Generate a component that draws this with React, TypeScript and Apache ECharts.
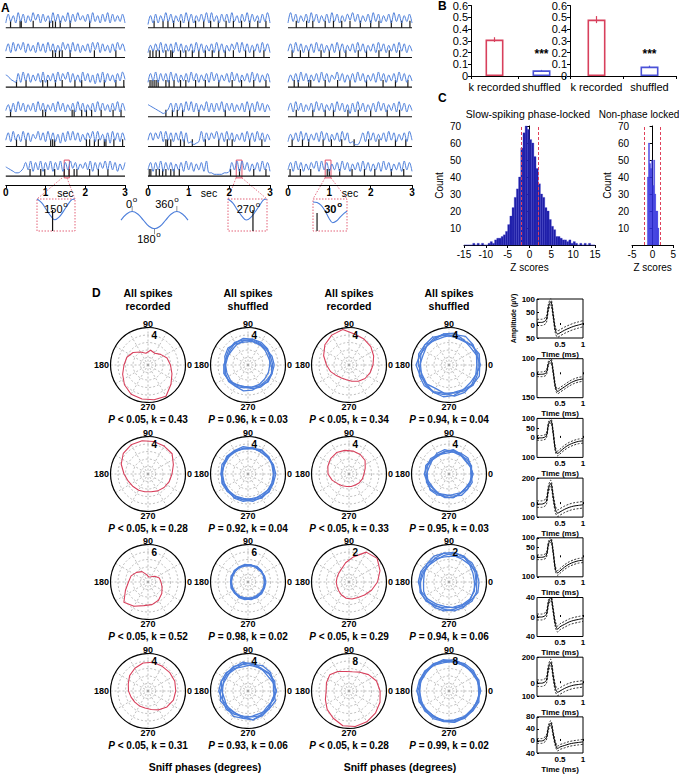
import { useEffect, useRef } from 'react';
import * as echarts from 'echarts';

const FONT = '"Liberation Sans", Arial, Helvetica, sans-serif';
const RED = '#d8405c';
const BLUE = '#4d7fdb';
const BAR_BLUE = '#4b52d8';
const HIST_DARK = '#1e1ea6';
const HIST_RIGHT = '#2b2bea';

// ---------------- Panel A: sniff traces (digit = relative amplitude at successive extrema) ----------------
const aTracesCol1 = [
  '2837293827394828372938273928394738293728392837382',
  '3829384928372938293827394829382738294928372839483',
  '7643282938273829273829384928372938271829283728394',
  '3728293827382938273829382738293827382938372839283',
  '3829372938274938293827182939382738492937281938283',
  '5432112483928392839283928394837483928384939382738',
];
const aTracesCol2 = [
  '1728273938273829382738392937283829372839283728392',
  '2738392838293827382938273829382738492938273829382',
  '2839283829382738293827382938273829382738293827382',
  '7654321248283829392827392828392838273829382938273',
  '3838492938283928120129283849382938273829382938273',
  '3828392838273829382738291100001128392938273829382',
];
const aTracesCol3 = [
  '2938273829382738293827384938273829382738293827382',
  '3829382738293827382938273829382738293827382938273',
  '2738293827382938274938273829382738293827382938273',
  '3829382738293827382938271829382738293827382938273',
  '2738293827382938273829381200382938273829382738293',
  '3829382738492938273829382738293827382938273829382',
];
const aSpikesCol1 = [
  [0.12, 0.36, 0.39, 0.69, 1.1, 1.18, 1.25, 1.37, 1.62, 2.11],
  [1.18, 1.25, 1.35, 1.42, 1.62, 2.23, 2.77],
  [0.27, 0.51, 0.93, 1.05, 1.25, 1.42, 1.74, 1.91, 2.48, 2.77, 2.97],
  [0.12, 0.93, 1.0, 1.67, 1.72, 1.91, 2.03, 2.16, 2.4, 2.7, 2.9],
  [0.27, 0.51, 1.13, 1.18, 1.23, 2.03, 2.11, 2.23, 2.33, 2.48, 2.52, 2.72, 2.94],
  [0.61, 0.88, 0.98, 1.23, 1.47, 1.59, 1.72, 1.79, 2.11, 2.33, 2.57],
];
const aSpikesCol2 = [
  [0.15, 0.37, 0.49, 0.63, 0.8, 1.0, 1.17, 1.37, 1.54, 1.73, 1.92, 2.1, 2.3, 2.5, 2.7, 2.9],
  [0.05, 0.12, 0.2, 0.28, 0.44, 0.56, 0.6, 0.8, 0.93, 1.09, 1.25, 1.41, 1.58, 1.74, 1.9, 2.1, 2.4, 2.6, 2.85],
  [0.05, 0.1, 0.15, 0.2, 0.25, 0.44, 0.52, 0.64, 0.8, 0.93, 1.17, 1.41, 1.74, 2.07, 2.3, 2.6, 2.9],
  [0.44, 0.6, 0.72, 0.85, 1.25, 1.9, 2.5],
  [0.44, 0.48, 0.56, 0.8, 0.89, 1.09, 1.41, 1.74, 1.95, 2.07, 2.5, 2.8],
  [0.03, 0.07, 0.2, 0.28, 0.36, 0.44, 0.56, 0.64, 0.77, 2.03, 2.25, 2.6, 2.9],
];
const aSpikesCol3 = [
  [0.2, 0.45, 0.6, 0.9, 1.1, 1.3, 1.5, 1.75, 2.0, 2.2, 2.5, 2.75, 2.95],
  [0.1, 0.3, 0.5, 0.8, 1.0, 1.25, 1.4, 1.7, 1.9, 2.2, 2.45, 2.7],
  [0.15, 0.25, 0.5, 0.55, 0.9, 1.2, 1.5, 1.9, 2.3, 2.6, 2.9],
  [0.2, 0.6, 0.9, 1.1, 1.45, 1.7, 2.0, 2.4, 2.7],
  [0.1, 0.35, 0.5, 0.85, 1.05, 1.3, 1.6, 1.95, 2.2, 2.6, 2.85],
  [0.05, 0.3, 0.55, 0.95, 1.0, 1.25, 1.55, 1.85, 2.1, 2.5, 2.8],
];
const aWindows = [[1.47, 1.6], [2.17, 2.31], [0.9, 1.04]];

// insets (phase examples)
const insetX = [0, 0.12, 0.24, 0.36, 0.47, 0.58, 0.7, 0.82, 0.92, 1];
const inset150Y = [1, 0.72, 0.2, -0.32, -0.62, -0.42, 0.05, 0.6, 0.95, 1];
const inset270Y = [1, 0.7, 0.15, -0.35, -0.64, -0.45, 0.0, 0.55, 0.95, 1];
const inset30Y = [0.77, 0.72, 0.5, 0.05, -0.5, -0.85, -0.7, -0.35, -0.1, 0.05];
const insetSpikeX = [0.41, 0.64, 0.12];
const insetSpikeTop = [0.14, 0.14, -0.1];
const refPhase = [-90, -45, 0, 45, 90, 135, 180, 225, 270, 315, 360, 405, 450];
const refY = [0, 0.71, 1, 0.71, 0, -0.71, -1, -0.71, 0, 0.71, 1, 0.71, 0];

// ---------------- Panel B ----------------
const bCats = ['k recorded', 'shuffled'];
const b1Vals = [0.31, 0.048];
const b1Err = [0.02, 0.004];
const b2Vals = [0.48, 0.08];
const b2Err = [0.03, 0.008];

// ---------------- Panel C ----------------
const cLeftEdges = [-15, -14.5, -14, -13.5, -13, -12.5, -12, -11.5, -11, -10.5, -10, -9.5, -9, -8.5, -8, -7.5, -7, -6.5, -6, -5.5, -5, -4.5, -4, -3.5, -3, -2.5, -2, -1.5, -1, -0.5, 0, 0.5, 1, 1.5, 2, 2.5, 3, 3.5, 4, 4.5, 5, 5.5, 6, 6.5, 7, 7.5, 8, 8.5, 9, 9.5, 10, 10.5, 11, 11.5, 12, 12.5, 13, 13.5, 14, 14.5];
const cLeftCounts = [0, 0, 0, 0, 1, 0, 1, 0, 1, 0, 0, 1, 2, 1, 3, 4, 4, 5, 6, 8, 12, 17, 22, 28, 33, 40, 57, 66, 70, 68, 62, 60, 52, 45, 36, 30, 28, 22, 20, 15, 11, 9, 5, 5, 4, 3, 3, 2, 3, 1, 2, 1, 0, 1, 0, 1, 0, 1, 0, 0];
const cLeftBin = 0.5;
const cRightEdges = [-1.25, -1.0, -0.75, -0.5, -0.25, 0, 0.25, 0.5, 0.75, 1.0, 1.25];
const cRightCounts = [40, 60, 48, 45, 50, 35, 50, 30, 20, 20, 10];
const cRightBin = 0.25;
const cThreshold = 1.96;

// ---------------- Panel D ----------------
const dAngles = [0, 20, 40, 60, 80, 100, 120, 140, 160, 180, 200, 220, 240, 260, 280, 300, 320, 340];
const dRadMax = [[5, 5, 5, 5], [5, 5, 5, 5], [7.5, 7.5, 2.5, 2.5], [5, 5, 10, 10]];
const dRadLabel = ['4', '4', '4', '4', '4', '4', '4', '4', '6', '6', '2', '2', '4', '4', '8', '8'];
const dStats = [
  ['< 0.05, k = 0.43', '= 0.96, k = 0.03', '< 0.05, k = 0.34', '= 0.94, k = 0.04'],
  ['< 0.05, k = 0.28', '= 0.92, k = 0.04', '< 0.05, k = 0.33', '= 0.95, k = 0.03'],
  ['< 0.05, k = 0.52', '= 0.98, k = 0.02', '< 0.05, k = 0.29', '= 0.94, k = 0.06'],
  ['< 0.05, k = 0.31', '= 0.93, k = 0.06', '< 0.05, k = 0.28', '= 0.99, k = 0.02'],
];
const dRecorded = [
  [3.0, 2.7, 2.2, 1.8, 2.0, 1.6, 2.0, 2.6, 3.0, 3.2, 3.6, 4.1, 4.5, 4.6, 4.7, 4.8, 4.0, 3.4],
  [3.2, 3.5, 3.8, 4.0, 4.2, 4.8, 4.6, 4.2, 3.6, 3.0, 2.6, 2.2, 2.0, 2.0, 2.2, 2.5, 2.8, 3.0],
  [3.2, 3.6, 4.2, 4.3, 4.4, 4.5, 4.5, 4.3, 3.8, 3.2, 2.8, 2.6, 2.5, 2.4, 2.4, 2.6, 2.8, 3.0],
  [2.0, 2.3, 2.8, 3.0, 3.1, 3.2, 3.3, 3.2, 3.0, 2.8, 2.4, 2.0, 1.8, 1.7, 1.7, 1.7, 1.8, 1.9],
  [2.6, 2.4, 1.8, 1.2, 1.0, 1.5, 2.4, 3.0, 3.6, 3.9, 4.8, 6.3, 5.6, 4.8, 4.6, 4.2, 3.6, 3.0],
  [1.9, 2.2, 2.45, 2.3, 1.7, 1.3, 1.0, 0.9, 0.85, 0.85, 0.85, 0.9, 1.0, 1.1, 1.15, 1.2, 1.35, 1.6],
  [3.7, 3.8, 3.8, 3.8, 3.9, 3.8, 3.5, 3.2, 2.8, 2.6, 2.4, 2.3, 2.3, 2.3, 2.5, 2.9, 3.3, 3.6],
  [8.3, 7.8, 6.8, 5.8, 5.2, 5.3, 6.0, 6.7, 6.4, 6.1, 6.7, 7.6, 8.4, 9.4, 9.6, 9.5, 9.2, 8.8],
];
const dShuffled = [
  [
    [3.3, 3.2, 3.4, 3.5, 3.5, 3.3, 3.1, 2.9, 3.0, 3.2, 3.4, 3.3, 3.0, 3.0, 3.2, 3.4, 3.4, 3.3],
    [2.9, 3.1, 3.3, 3.3, 3.5, 3.6, 3.4, 3.1, 2.9, 3.0, 3.2, 3.4, 3.3, 3.1, 3.0, 3.0, 2.9, 2.9],
    [3.5, 3.4, 3.2, 3.1, 3.2, 3.1, 3.3, 3.5, 3.3, 3.0, 3.0, 3.1, 3.3, 3.5, 3.4, 3.2, 3.2, 3.4],
    [3.1, 2.9, 3.0, 3.2, 3.3, 3.4, 3.5, 3.3, 3.1, 3.2, 3.4, 3.3, 3.1, 2.9, 3.0, 3.2, 3.5, 3.4],
  ],
  [
    [3.9, 4.1, 4.1, 3.8, 3.9, 4.2, 4.1, 3.9, 3.7, 3.9, 4.2, 4.3, 4.1, 3.8, 3.8, 4.0, 4.2, 4.0],
    [4.2, 3.9, 3.7, 3.9, 4.3, 4.2, 3.9, 3.9, 4.1, 4.4, 4.1, 3.9, 3.6, 3.8, 4.2, 4.2, 4.0, 3.8],
    [3.7, 3.9, 4.2, 4.4, 4.1, 3.8, 3.8, 4.2, 4.3, 4.1, 3.8, 3.9, 4.2, 4.3, 4.1, 3.8, 3.7, 3.8],
    [4.1, 4.3, 4.0, 3.7, 3.8, 4.0, 4.3, 4.2, 4.0, 3.8, 3.9, 4.1, 4.2, 4.0, 3.7, 3.8, 4.1, 4.3],
  ],
  [
    [3.5, 3.6, 3.5, 3.4, 3.5, 3.7, 3.6, 3.4, 3.4, 3.6, 3.6, 3.4, 3.4, 3.5, 3.7, 3.6, 3.4, 3.4],
    [3.4, 3.4, 3.6, 3.6, 3.4, 3.4, 3.6, 3.7, 3.5, 3.4, 3.4, 3.6, 3.6, 3.5, 3.3, 3.5, 3.7, 3.6],
    [3.7, 3.6, 3.4, 3.4, 3.6, 3.5, 3.4, 3.5, 3.7, 3.6, 3.4, 3.4, 3.7, 3.7, 3.5, 3.3, 3.4, 3.6],
    [3.4, 3.5, 3.6, 3.7, 3.5, 3.4, 3.5, 3.6, 3.4, 3.5, 3.7, 3.6, 3.4, 3.3, 3.5, 3.7, 3.6, 3.4],
  ],
  [
    [3.0, 3.2, 3.1, 2.9, 3.0, 3.3, 3.2, 2.9, 2.8, 3.0, 3.2, 3.2, 3.0, 2.8, 3.0, 3.3, 3.2, 3.0],
    [3.2, 3.0, 2.8, 3.0, 3.2, 3.1, 2.9, 3.0, 3.3, 3.2, 2.9, 2.8, 3.0, 3.2, 3.2, 3.0, 2.9, 3.1],
    [2.9, 3.1, 3.3, 3.2, 3.0, 2.8, 3.0, 3.2, 3.1, 2.9, 3.0, 3.3, 3.2, 3.0, 2.8, 2.9, 3.2, 3.3],
    [3.2, 3.0, 2.9, 3.1, 3.3, 3.0, 2.8, 2.9, 3.1, 3.3, 3.1, 2.9, 2.9, 3.1, 3.2, 3.0, 2.9, 3.0],
  ],
  [
    [3.4, 3.5, 3.4, 3.3, 3.4, 3.6, 3.5, 3.3, 3.3, 3.5, 3.5, 3.3, 3.3, 3.4, 3.6, 3.5, 3.3, 3.3],
    [3.3, 3.3, 3.5, 3.5, 3.3, 3.3, 3.5, 3.6, 3.4, 3.3, 3.3, 3.5, 3.5, 3.4, 3.2, 3.4, 3.6, 3.5],
    [3.6, 3.5, 3.3, 3.3, 3.5, 3.4, 3.3, 3.4, 3.6, 3.5, 3.3, 3.3, 3.6, 3.6, 3.4, 3.2, 3.3, 3.5],
    [3.3, 3.4, 3.5, 3.6, 3.4, 3.3, 3.4, 3.5, 3.3, 3.4, 3.6, 3.5, 3.3, 3.2, 3.4, 3.6, 3.5, 3.3],
  ],
  [
    [1.85, 1.95, 2.0, 1.9, 1.75, 1.7, 1.8, 1.9, 2.0, 2.05, 1.95, 1.8, 1.7, 1.65, 1.75, 1.9, 2.0, 1.95],
    [1.7, 1.7, 1.8, 1.95, 2.0, 1.95, 1.85, 1.75, 1.8, 1.9, 2.0, 2.0, 1.85, 1.75, 1.7, 1.75, 1.8, 1.8],
    [2.0, 1.95, 1.8, 1.75, 1.8, 1.95, 2.0, 1.9, 1.75, 1.7, 1.8, 1.9, 1.95, 1.95, 1.85, 1.8, 1.9, 2.05],
    [1.8, 1.85, 1.9, 2.0, 1.95, 1.8, 1.7, 1.75, 1.9, 1.95, 2.05, 1.95, 1.8, 1.85, 1.95, 1.95, 1.85, 1.75],
  ],
  [
    [3.6, 3.8, 3.6, 3.4, 3.6, 3.9, 3.7, 3.4, 3.4, 3.7, 3.9, 3.6, 3.4, 3.5, 3.9, 3.8, 3.5, 3.5],
    [3.8, 3.5, 3.3, 3.5, 3.8, 3.7, 3.4, 3.5, 3.8, 3.9, 3.6, 3.4, 3.4, 3.7, 3.9, 3.6, 3.3, 3.6],
    [3.4, 3.6, 3.9, 3.9, 3.6, 3.3, 3.5, 3.8, 3.8, 3.5, 3.3, 3.6, 3.9, 3.7, 3.4, 3.4, 3.7, 3.9],
    [3.8, 3.6, 3.7, 3.5, 3.4, 3.6, 3.8, 3.7, 3.5, 3.4, 3.6, 3.8, 3.6, 3.4, 3.5, 3.8, 3.7, 3.4],
  ],
  [
    [8.2, 8.5, 8.1, 7.8, 8.1, 8.5, 8.2, 7.8, 7.9, 8.3, 8.5, 8.0, 7.8, 8.1, 8.5, 8.3, 7.9, 8.0],
    [8.4, 8.0, 7.8, 8.1, 8.5, 8.2, 7.9, 8.1, 8.4, 8.6, 8.1, 7.8, 7.9, 8.3, 8.4, 8.0, 7.8, 8.2],
    [7.9, 8.2, 8.5, 8.4, 8.0, 7.7, 8.0, 8.4, 8.3, 7.9, 7.8, 8.2, 8.5, 8.2, 7.8, 7.9, 8.3, 8.5],
    [8.5, 8.2, 8.2, 7.9, 7.8, 8.1, 8.4, 8.2, 8.0, 7.8, 8.2, 8.4, 8.1, 7.9, 8.0, 8.4, 8.2, 7.9],
  ],
];

// ---------------- Waveforms ----------------
const wfT = [0, 0.1, 0.2, 0.25, 0.3, 0.35, 0.4, 0.45, 0.5, 0.6, 0.7, 0.8, 0.9, 1.0];
const wfMean = [
  [10, 10, 20, 70, 90, 40, -20, -35, -30, -20, -12, -5, 0, 5],
  [0, 0, 10, 70, 90, 20, -80, -110, -100, -80, -60, -45, -35, -30],
  [0, 0, 10, 70, 90, 30, -60, -80, -70, -50, -35, -25, -18, -15],
  [0, 0, 20, 120, 160, 60, -40, -70, -60, -40, -25, -15, -10, -5],
  [0, 0, 10, 70, 90, 30, -60, -80, -70, -50, -35, -25, -18, -15],
  [0, 0, 5, 30, 40, 15, -15, -25, -20, -15, -10, -7, -5, -3],
  [0, 0, 20, 120, 160, 60, -40, -70, -60, -40, -25, -15, -10, -5],
  [0, 0, 10, 45, 60, 25, -10, -25, -20, -15, -10, -7, -5, -3],
];
const wfSd = [12, 15, 12, 25, 12, 6, 25, 8];
const wfRange = [[-50, 100], [-150, 100], [-100, 100], [-100, 200], [-100, 100], [-40, 40], [-100, 200], [-40, 80]];
const wfTicks = [[-50, 0, 50, 100], [-150, 0, 100], [-100, 0, 50, 100], [-100, 0, 200], [-100, 0, 50, 100], [-40, 0, 40], [-100, 0, 200], [-40, 0, 40, 80]];

function buildOption() {
  const grid: any[] = [];
  const xAxis: any[] = [];
  const yAxis: any[] = [];
  const series: any[] = [];
  const graphic: any[] = [];
  const polar: any[] = [];
  const angleAxis: any[] = [];
  const radiusAxis: any[] = [];

  const addGrid = (g: any, x: any, y: any) => {
    const i = grid.length;
    grid.push({ ...g });
    xAxis.push({ gridIndex: i, ...x });
    yAxis.push({ gridIndex: i, ...y });
    return i;
  };
  const txt = (x: number, y: number, t: string, o: any = {}) => {
    graphic.push({
      type: 'text', x, y, silent: true, z: 50,
      style: { text: t, fontFamily: FONT, fontSize: 10, fill: '#000', textAlign: 'center', textVerticalAlign: 'middle', ...o },
    });
  };
  const deg = (x: number, y: number, t: string, bold = false) => {
    txt(x, y, t, { textAlign: 'right', fontSize: 11, fontWeight: bold ? 'bold' : 'normal' });
    txt(x + 0.8, y - 4.5, 'o', { textAlign: 'left', fontSize: 8, fontWeight: bold ? 'bold' : 'normal' });
  };
  const dotted = (x1: number, y1: number, x2: number, y2: number) => {
    graphic.push({ type: 'line', silent: true, shape: { x1, y1, x2, y2 }, style: { stroke: '#e0506a', lineWidth: 0.8, lineDash: [1.5, 1.5] } });
  };
  const hidden = (min: number, max: number) => ({ type: 'value', min, max, show: false, splitLine: { show: false } });

  // ---------- Panel A ----------
  const colBox = [[2, 123], [148, 122], [288, 124]];
  const traces = [aTracesCol1, aTracesCol2, aTracesCol3];
  const spikes = [aSpikesCol1, aSpikesCol2, aSpikesCol3];
  for (let c = 0; c < 3; c++) {
    const gi = addGrid(
      { left: colBox[c][0], top: 7, width: colBox[c][1], height: 178 },
      {
        type: 'value', min: 0, max: 3, interval: 1,
        axisLine: { show: true, onZero: false, lineStyle: { color: '#000', width: 1 } },
        axisTick: { show: true, length: 3, customValues: [0, 1, 2, 3], lineStyle: { color: '#000' } },
        axisLabel: {
          customValues: [0, 1, 1.5, 2, 3], margin: 2, fontSize: 10, fontWeight: 'bold', color: '#000', fontFamily: FONT,
          formatter: (v: number) => (v === 1.5 ? '{s|sec}' : String(v)),
          rich: { s: { fontSize: 10.5, fontWeight: 'normal', color: '#000', fontFamily: FONT } },
        },
        splitLine: { show: false },
      },
      hidden(-53, 7),
    );
    const spikeData: number[][] = [];
    for (let r = 0; r < 6; r++) {
      const base = -r * 10;
      const s = traces[c][r];
      series.push({
        type: 'line', xAxisIndex: gi, yAxisIndex: gi, symbol: 'none', smooth: 0.35, silent: true,
        lineStyle: { color: BLUE, width: 1 },
        data: s.split('').map((ch, i) => [(i * 3) / (s.length - 1), base + 0.6 + Number(ch) * 0.5]),
        markArea: r === 5 ? {
          silent: true,
          itemStyle: { color: 'rgba(0,0,0,0)', borderColor: '#e0506a', borderWidth: 1 },
          data: [[{ coord: [aWindows[c][0], base - 0.6] }, { coord: [aWindows[c][1], base + 5.4] }]],
        } : undefined,
      });
      series.push({
        type: 'line', xAxisIndex: gi, yAxisIndex: gi, symbol: 'none', silent: true,
        lineStyle: { color: '#111', width: 1.1 }, data: [[0, base], [3, base]],
      });
      spikes[c][r].forEach((t) => spikeData.push([t, base, 2.4]));
    }
    series.push({
      type: 'custom', xAxisIndex: gi, yAxisIndex: gi, silent: true, data: spikeData,
      renderItem: (_p: any, api: any) => {
        const p0 = api.coord([api.value(0), api.value(1)]);
        const p1 = api.coord([api.value(0), api.value(1) + api.value(2)]);
        return { type: 'line', shape: { x1: p0[0], y1: p0[1], x2: p1[0], y2: p1[1] }, style: { stroke: '#1a1a1a', lineWidth: 1.2 } };
      },
    });
  }
  txt(1, 2, 'A', { fontWeight: 'bold', fontSize: 12, textAlign: 'left', textVerticalAlign: 'top' });

  // insets
  const insetBoxes = [[37, 199, 38, 32], [228, 199, 39, 32], [313, 199, 34, 32]];
  const insetYs = [inset150Y, inset270Y, inset30Y];
  const spikeCol = ['#111', '#111', '#666'];
  for (let k = 0; k < 3; k++) {
    const [l, t, w, h] = insetBoxes[k];
    const gi = addGrid({ left: l, top: t, width: w, height: h }, hidden(0, 1), hidden(-1.5, 1));
    series.push({
      type: 'line', xAxisIndex: gi, yAxisIndex: gi, symbol: 'none', smooth: 0.4, silent: true,
      lineStyle: { color: BLUE, width: 1.1 }, data: insetX.map((x, i) => [x, insetYs[k][i]]),
    });
    series.push({
      type: 'line', xAxisIndex: gi, yAxisIndex: gi, symbol: 'none', silent: true,
      lineStyle: { color: spikeCol[k], width: k === 2 ? 1.8 : 1.2 },
      data: [[insetSpikeX[k], -1.5], [insetSpikeX[k], insetSpikeTop[k]]],
    });
    graphic.push({ type: 'rect', silent: true, shape: { x: l, y: t, width: w, height: h }, style: { fill: 'none', stroke: '#e0506a', lineWidth: 0.9, lineDash: [1.5, 1.5] } });
  }
  dotted(62, 178, 37, 199); dotted(67, 178, 75, 199);
  dotted(236, 178, 228, 199); dotted(242, 178, 267, 199);
  dotted(325, 178, 313, 199); dotted(331, 178, 347, 199);
  deg(62.5, 209, '150');
  deg(255, 209, '270');
  deg(336.5, 209, '30', true);
  const gRef = addGrid({ left: 121, top: 203, width: 67, height: 30 }, hidden(-90, 450), hidden(-1.5, 2.0));
  series.push({
    type: 'line', xAxisIndex: gRef, yAxisIndex: gRef, symbol: 'none', smooth: 0.45, silent: true,
    lineStyle: { color: BLUE, width: 1.1 }, data: refPhase.map((p, i) => [p, refY[i]]),
  });
  series.push({
    type: 'scatter', xAxisIndex: gRef, yAxisIndex: gRef, silent: true, symbol: 'rect', symbolSize: [1, 6],
    itemStyle: { color: '#777' }, data: [[0, 1.3], [360, 1.3], [180, -1.3]],
  });
  deg(132, 204, '0');
  deg(173.5, 204, '360');
  deg(155.5, 239, '180');

  // ---------- Panel B ----------
  const barChart = (left: number, width: number, vals: number[], errs: number[], starDist: number) => {
    const gi = addGrid(
      { left, top: 5, width, height: 71 },
      {
        type: 'category', data: bCats,
        axisLine: { lineStyle: { color: '#000' } },
        axisTick: { show: true, length: 3, lineStyle: { color: '#000' } },
        axisLabel: { fontSize: 11, color: '#000', margin: 5, interval: 0, fontFamily: FONT },
      },
      {
        type: 'value', min: 0, max: 0.6, interval: 0.1,
        axisLine: { show: true, lineStyle: { color: '#000' } },
        axisTick: { show: true, length: 3, lineStyle: { color: '#000' } },
        axisLabel: { fontSize: 11, color: '#000', margin: 3, fontFamily: FONT },
        splitLine: { show: false },
      },
    );
    series.push({
      type: 'bar', xAxisIndex: gi, yAxisIndex: gi, barWidth: 18, silent: true,
      data: vals.map((v, i) => ({
        value: v,
        itemStyle: { color: '#fff', borderColor: i === 0 ? RED : BAR_BLUE, borderWidth: 1.6 },
        label: i === 1
          ? { show: true, position: 'top', distance: starDist, formatter: '***', fontSize: 12, fontWeight: 'bold', color: '#000', fontFamily: FONT }
          : { show: false },
      })),
    });
    series.push({
      type: 'custom', xAxisIndex: gi, yAxisIndex: gi, silent: true, z: 5,
      data: vals.map((v, i) => [i, v, errs[i]]),
      renderItem: (_p: any, api: any) => {
        const a = api.coord([api.value(0), api.value(1) - api.value(2)]);
        const b = api.coord([api.value(0), api.value(1) + api.value(2)]);
        return { type: 'line', shape: { x1: a[0], y1: a[1], x2: b[0], y2: b[1] }, style: { stroke: api.value(0) === 0 ? RED : BAR_BLUE, lineWidth: 1.2 } };
      },
    });
  };
  barChart(471, 94, b1Vals, b1Err, 10);
  barChart(570, 106, b2Vals, b2Err, 7);
  txt(438, 0, 'B', { fontWeight: 'bold', fontSize: 12, textAlign: 'left', textVerticalAlign: 'top' });

  // ---------- Panel C ----------
  const hist = (left: number, width: number, xmin: number, xmax: number, edges: number[], counts: number[], bin: number, color: string) => {
    const gi = addGrid(
      { left, top: 126, width, height: 119 },
      {
        type: 'value', min: xmin, max: xmax, interval: 5,
        axisLine: { show: true, onZero: false, lineStyle: { color: '#000' } },
        axisTick: { show: true, length: 3, lineStyle: { color: '#000' } },
        axisLabel: { fontSize: 10, color: '#000', margin: 4, fontFamily: FONT },
        splitLine: { show: false },
        name: 'Z scores', nameLocation: 'middle', nameGap: 17,
        nameTextStyle: { fontSize: 10, color: '#000', fontFamily: FONT },
      },
      {
        type: 'value', min: 0, max: 70, interval: 10,
        axisLine: { show: true, lineStyle: { color: '#000' } },
        axisTick: { show: true, length: 3, lineStyle: { color: '#000' } },
        axisLabel: { fontSize: 10, color: '#000', margin: 3, fontFamily: FONT, formatter: (v: number) => (v === 0 ? '' : String(v)) },
        splitLine: { show: false },
        name: 'Count', nameLocation: 'middle', nameGap: 20, nameRotate: 90,
        nameTextStyle: { fontSize: 10, color: '#000', fontFamily: FONT },
      },
    );
    series.push({
      type: 'custom', xAxisIndex: gi, yAxisIndex: gi, silent: true,
      data: edges.map((e, i) => [e, e + bin, counts[i]]),
      renderItem: (_p: any, api: any) => {
        const a = api.coord([api.value(0), api.value(2)]);
        const b = api.coord([api.value(1), 0]);
        return { type: 'rect', shape: { x: a[0], y: a[1], width: b[0] - a[0], height: b[1] - a[1] }, style: { fill: color, stroke: '#3a3ad0', lineWidth: 0.3 } };
      },
      markLine: {
        silent: true, symbol: 'none', label: { show: false },
        lineStyle: { color: '#e0405a', type: [3, 2], width: 1 },
        data: [{ xAxis: -cThreshold }, { xAxis: cThreshold }],
      },
    });
  };
  hist(464, 131, -15, 15, cLeftEdges, cLeftCounts, cLeftBin, HIST_DARK);
  hist(632, 44, -5, 5, cRightEdges, cRightCounts, cRightBin, HIST_RIGHT);
  txt(438, 92, 'C', { fontWeight: 'bold', fontSize: 12, textAlign: 'left', textVerticalAlign: 'top' });
  txt(528, 114, 'Slow-spiking phase-locked', { fontSize: 10.5 });
  txt(639, 114, 'Non-phase locked', { fontSize: 10 });

  // ---------- Panel D ----------
  const PX = [148, 248, 349, 449];
  const PY = [365, 474, 582, 691];
  const R = 37.5;
  const heads = [['All spikes', 'recorded'], ['All spikes', 'shuffled'], ['All spikes', 'recorded'], ['All spikes', 'shuffled']];
  heads.forEach((h, c) => {
    txt(PX[c], 293, h[0], { fontWeight: 'bold', fontSize: 10.5 });
    txt(PX[c], 306, h[1], { fontWeight: 'bold', fontSize: 10.5 });
  });
  txt(92, 287, 'D', { fontWeight: 'bold', fontSize: 12, textAlign: 'left', textVerticalAlign: 'top' });
  const lab = { fontWeight: 'bold', fontSize: 9 };
  let recIdx = 0;
  let shufIdx = 0;
  for (let r = 0; r < 4; r++) {
    for (let c = 0; c < 4; c++) {
      const pi = polar.length;
      const M = dRadMax[r][c];
      const cx = PX[c];
      const cy = PY[r];
      polar.push({ center: [cx, cy], radius: R });
      angleAxis.push({
        polarIndex: pi, type: 'value', min: 0, max: 360, interval: 30, startAngle: 0, clockwise: false,
        axisLine: { show: true, lineStyle: { color: '#000', width: 1.2 } },
        axisTick: { show: false },
        axisLabel: { show: false },
        splitLine: { show: true, lineStyle: { color: '#a0a0a0', type: [2, 2], width: 0.7 } },
      });
      radiusAxis.push({
        polarIndex: pi, type: 'value', min: 0, max: M, interval: M / 5,
        axisLine: { show: false }, axisTick: { show: false }, axisLabel: { show: false },
        splitLine: { show: true, lineStyle: { color: '#a0a0a0', type: [2, 2], width: 0.7 } },
      });
      const curves = c % 2 === 0 ? [dRecorded[recIdx++]] : dShuffled[shufIdx++];
      curves.forEach((cv) => {
        const d = cv.map((v, k) => [v, dAngles[k]]);
        d.push([cv[0], 360]);
        series.push({
          type: 'line', coordinateSystem: 'polar', polarIndex: pi, symbol: 'none', silent: true,
          lineStyle: { color: c % 2 === 0 ? RED : BLUE, width: c % 2 === 0 ? 1.1 : 1.3 }, data: d,
        });
      });
      txt(cx, cy - R - 4, '90', lab);
      txt(cx, cy + R + 4, '270', lab);
      txt(cx - R - 1.5, cy, '180', { ...lab, textAlign: 'right' });
      txt(cx + R + 1.5, cy, '0', { ...lab, textAlign: 'left' });
      const lr = (4 / 5) * R;
      txt(cx + lr * Math.cos((78 * Math.PI) / 180), cy - lr * Math.sin((78 * Math.PI) / 180), dRadLabel[r * 4 + c], { fontWeight: 'bold', fontSize: 10 });
      graphic.push({
        type: 'text', x: cx, y: cy + 54, silent: true, z: 50,
        style: {
          text: '{i|P}{n| ' + dStats[r][c] + '}', textAlign: 'center', textVerticalAlign: 'middle', fill: '#000',
          rich: {
            i: { fontStyle: 'italic', fontWeight: 'bold', fontSize: 10, fontFamily: FONT },
            n: { fontWeight: 'bold', fontSize: 10, fontFamily: FONT },
          },
        },
      });
    }
  }
  txt(205, 767, 'Sniff phases (degrees)', { fontWeight: 'bold', fontSize: 10.5 });
  txt(400, 767, 'Sniff phases (degrees)', { fontWeight: 'bold', fontSize: 10.5 });

  // ---------- Waveforms ----------
  for (let i = 0; i < 8; i++) {
    const top = 299 + i * 59.7;
    const gi = addGrid(
      { left: 537, top, width: 46, height: 39, show: true, borderColor: '#000', borderWidth: 1, backgroundColor: 'transparent' },
      {
        type: 'value', min: 0, max: 1,
        axisLine: { show: false }, splitLine: { show: false },
        axisTick: { show: true, inside: true, length: 2, customValues: [0, 0.5, 1], lineStyle: { color: '#000' } },
        axisLabel: { customValues: [0.5, 1], fontSize: 8, fontWeight: 'bold', color: '#000', margin: 2, fontFamily: FONT },
        name: 'Time (ms)', nameLocation: 'middle', nameGap: 12,
        nameTextStyle: { fontSize: 8, fontWeight: 'bold', color: '#000', fontFamily: FONT },
      },
      {
        type: 'value', min: wfRange[i][0], max: wfRange[i][1],
        axisLine: { show: false }, splitLine: { show: false },
        axisTick: { show: true, inside: true, length: 2, customValues: wfTicks[i], lineStyle: { color: '#000' } },
        axisLabel: { customValues: wfTicks[i], fontSize: 8, fontWeight: 'bold', color: '#000', margin: 2, fontFamily: FONT, formatter: (v: number) => String(Math.abs(v)) },
        name: i === 0 ? 'Amplitude (µV)' : '', nameLocation: 'middle', nameGap: 20, nameRotate: 90,
        nameTextStyle: { fontSize: 7, fontWeight: 'bold', color: '#000', fontFamily: FONT },
      },
    );
    const m = wfMean[i];
    series.push({ type: 'line', xAxisIndex: gi, yAxisIndex: gi, symbol: 'none', silent: true, smooth: 0.3, lineStyle: { color: '#000', width: 1 }, data: wfT.map((t, k) => [t, m[k]]) });
    [1, -1].forEach((sg) => {
      series.push({
        type: 'line', xAxisIndex: gi, yAxisIndex: gi, symbol: 'none', silent: true, smooth: 0.3,
        lineStyle: { color: '#000', width: 0.8, type: [2, 1.5] }, data: wfT.map((t, k) => [t, m[k] + sg * wfSd[i]]),
      });
    });
  }

  return {
    animation: false,
    backgroundColor: '#fff',
    textStyle: { fontFamily: FONT },
    grid, xAxis, yAxis, polar, angleAxis, radiusAxis, series, graphic,
  };
}

export default function App() {
  const ref = useRef<HTMLDivElement>(null);
  useEffect(() => {
    const chart = echarts.init(ref.current as HTMLDivElement, null, { renderer: 'svg' });
    chart.setOption(buildOption() as any);
    return () => chart.dispose();
  }, []);
  return <div ref={ref} style={{ position: 'fixed', left: 0, top: 0, width: 679, height: 774, background: '#fff' }} />;
}
